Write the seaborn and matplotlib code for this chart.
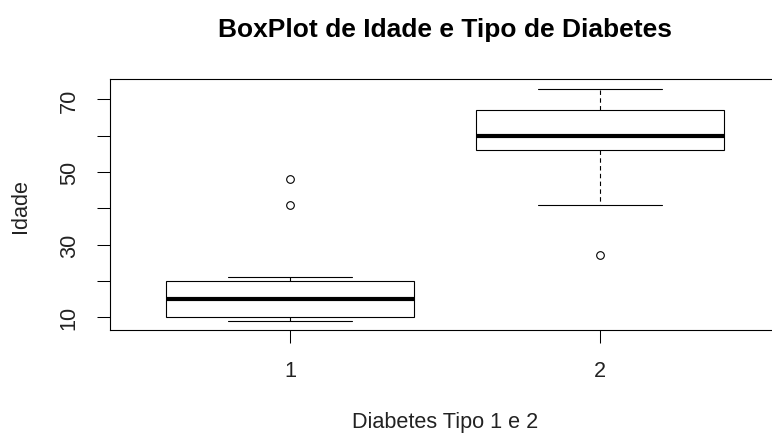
import matplotlib
matplotlib.use("Agg")
import matplotlib.pyplot as plt
import seaborn as sns
import pandas as pd

# Ages by diabetes type
tipo_1 = [9, 10, 10, 10, 13, 14, 15, 17, 18, 20, 21, 41, 48]
tipo_2 = [27, 41, 50, 56, 57, 59, 60, 62, 65, 67, 70, 72, 73]
categorias = ["1", "2"]
y_ticks = [10, 20, 30, 40, 50, 60, 70]
y_labels = ["10", "", "30", "", "50", "", "70"]

df = pd.DataFrame({
    "tipo": [categorias[0]] * len(tipo_1) + [categorias[1]] * len(tipo_2),
    "idade": tipo_1 + tipo_2,
})

sns.set_theme(style="white")
plt.rcParams["font.family"] = ["Liberation Sans", "DejaVu Sans"]

W, H = 772, 435
fig = plt.figure(figsize=(W / 100, H / 100), dpi=100)
ax = fig.add_axes([110.2 / W, (H - 331) / H, 669.6 / W, (331 - 80.3) / H])

lw = 0.8
sns.boxplot(
    data=df, x="tipo", y="idade", order=categorias, ax=ax,
    color="white", linecolor="black", linewidth=lw, width=0.8,
    whis=1.5, saturation=1,
    medianprops=dict(linewidth=3.0, color="black", solid_capstyle="butt"),
    whiskerprops=dict(linestyle=(0, (4, 3)), linewidth=lw, color="black"),
    capprops=dict(linewidth=lw, color="black"),
    flierprops=dict(marker="o", markersize=5.5, markerfacecolor="none",
                    markeredgecolor="black", markeredgewidth=lw),
)

# staples at half the box width
for line in ax.lines:
    xd, yd = line.get_xdata(), line.get_ydata()
    if len(xd) == 2 and yd[0] == yd[1] and line.get_linewidth() < 2:
        c = (xd[0] + xd[1]) / 2
        line.set_xdata([c - 0.2, c + 0.2])

ax.set_xlim(-0.58, 1.58)
ax.set_ylim(6.44, 75.56)
ax.set_yticks(y_ticks)
ax.set_yticklabels(y_labels)

for s in ax.spines.values():
    s.set_visible(True)
    s.set_color("black")
    s.set_linewidth(0.8)

ax.tick_params(axis="both", which="both", direction="out", length=9.4,
               width=0.75, color="black", labelsize=15.6, labelcolor="#222222",
               bottom=True, left=True)
ax.tick_params(axis="x", pad=12.5)
ax.tick_params(axis="y", pad=12.5, labelrotation=90)
for t in ax.get_yticklabels():
    t.set_va("center")

ax.set_xlabel("Diabetes Tipo 1 e 2", fontsize=15.6, color="#222222", va="baseline")
ax.xaxis.set_label_coords(0.5, (331 - 428) / (331 - 80.3))
ax.set_ylabel("Idade", fontsize=15.6, color="#222222")
ax.yaxis.set_label_coords(-0.118, 0.5)

fig.text(445 / W, 1 - 37 / H, "BoxPlot de Idade e Tipo de Diabetes",
         ha="center", va="baseline", fontsize=19, fontweight="bold", color="black")

fig.savefig("out.png", dpi=100, facecolor="white")
